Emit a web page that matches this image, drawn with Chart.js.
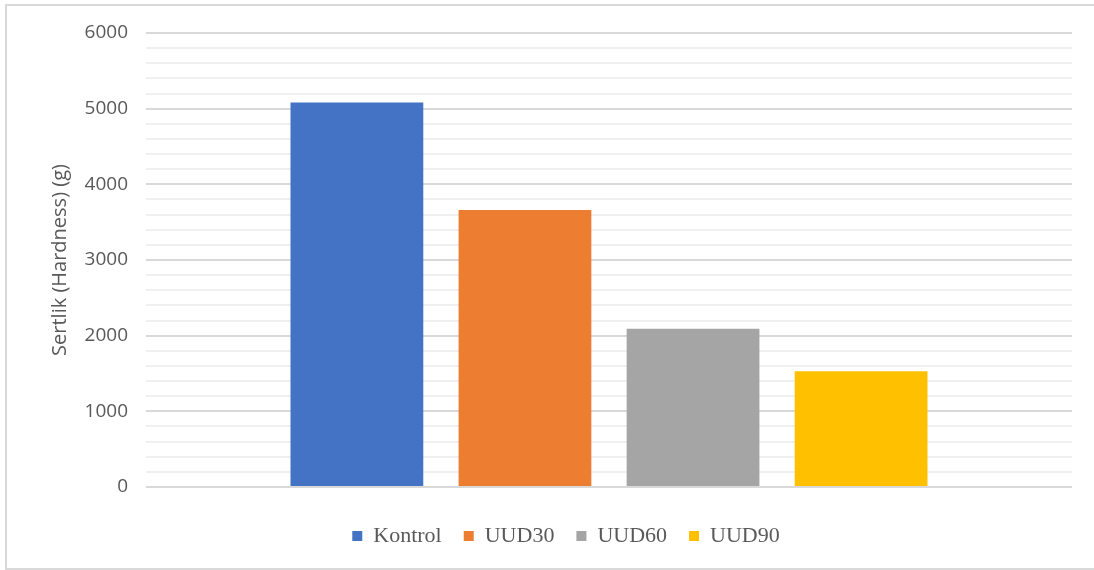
<!DOCTYPE html>
<html>
<head>
<meta charset="utf-8">
<script src="https://cdn.jsdelivr.net/npm/chart.js@4/dist/chart.umd.min.js"></script>
<style>
  html, body { margin: 0; padding: 0; background: #fff; overflow: hidden; }
  #frame { position: absolute; left: 5px; top: 4px; width: 1200px; height: 562px; border: 2px solid #d9d9d9; }
  #wrap { position: absolute; left: 0; top: 0; width: 1094px; height: 570px; }
</style>
</head>
<body>
<div id="frame"></div>
<div id="wrap"><canvas id="hardness-chart" width="1094" height="570"></canvas></div>
<script>
const categories = [''];
const seriesNames = ['Kontrol', 'UUD30', 'UUD60', 'UUD90'];
const seriesValues = [[5080], [3660], [2090], [1530]];
const seriesColors = ['#4472c4', '#ed7d31', '#a5a5a5', '#ffc000'];
const yTicks = [0, 1000, 2000, 3000, 4000, 5000, 6000];

const datasets = seriesNames.map((name, i) => ({
    label: name,
    data: seriesValues[i],
    backgroundColor: seriesColors[i],
    borderWidth: 0,
    categoryPercentage: 0.726,
    barPercentage: 0.79
}));

const config = {
    type: 'bar',
    data: { labels: categories, datasets },
    options: {
        responsive: false,
        animation: false,
        // left padding shifts the legend centre; the y axis keeps the rest of the gutter
        layout: { padding: { left: 60, right: 22, top: 33, bottom: 13 } },
        plugins: {
            tooltip: { enabled: false },
            legend: {
                position: 'bottom',
                labels: {
                    boxWidth: 10,
                    boxHeight: 10,
                    padding: 22,
                    color: '#595959',
                    font: { family: '"Liberation Serif", serif', size: 22 }
                }
            }
        },
        scales: {
            x: {
                ticks: { display: false },
                grid: { display: false },
                border: { display: false },
                afterFit(scale) { scale.height = 16; }
            },
            y: {
                min: yTicks[0],
                max: yTicks[yTicks.length - 1],
                ticks: {
                    stepSize: 200,
                    autoSkip: false,
                    padding: 18,
                    color: '#595959',
                    font: { family: '"Open Sans", sans-serif', size: 19 },
                    callback: v => (yTicks.includes(v) ? v : '')
                },
                grid: {
                    drawTicks: false,
                    lineWidth: 2,
                    color: ctx => (yTicks.includes(ctx.tick.value) ? '#d9d9d9' : '#f0f0f0')
                },
                border: { display: false },
                title: {
                    display: true,
                    text: 'Sertlik (Hardness) (g)',
                    color: '#595959',
                    font: { family: '"Open Sans", sans-serif', size: 20 },
                    padding: { top: -12 }
                },
                afterFit(scale) { scale.width = 86; }
            }
        }
    }
};

const hardnessChart = new Chart(document.querySelector('#hardness-chart'), config);
</script>
</body>
</html>
